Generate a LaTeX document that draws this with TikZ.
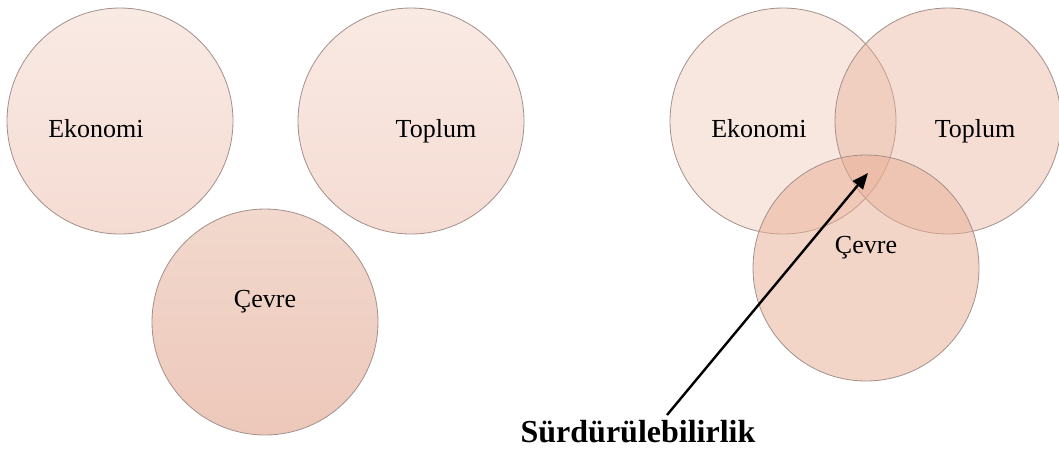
\documentclass[tikz,border=0pt]{standalone}
\usepackage{fontspec}
\setmainfont{Liberation Serif}
\usetikzlibrary{arrows.meta}
\definecolor{ringline}{HTML}{A3908B}
\definecolor{ringtop}{HTML}{F9EAE4}
\definecolor{ringbot}{HTML}{F5DCD3}
\definecolor{envtop}{HTML}{F2D8CD}
\definecolor{envbot}{HTML}{EDC8BA}
\definecolor{blendfill}{HTML}{E8AE96}
\newcommand{\lbl}{\fontsize{13pt}{15pt}\selectfont}
\newcommand{\keylbl}{\fontsize{16pt}{19pt}\selectfont\bfseries}

\tikzset{
  ring/.style={circle, draw=ringline, line width=0.4pt, minimum size=113pt, inner sep=0pt, outer sep=0pt},
  pale/.style={ring, top color=ringtop, bottom color=ringbot},
  deep/.style={ring, top color=envtop, bottom color=envbot},
  blend/.style={ring, fill=blendfill, fill opacity=#1},
  word/.style={anchor=base, inner sep=0pt, font=\lbl}
}

\begin{document}
\begin{tikzpicture}[x=0.5pt, y=-0.5pt]
  \useasboundingbox (0,0) rectangle (1059,452);

  % Separate circles
  \node[pale] (eko) at (120,121) {};
  \node[pale] (top) at (411,121) {};
  \node[deep] (cev) at (265,322) {};
  \node[word] (ekoL) at (96,137) {Ekonomi};
  \node[word] (topL) at (436,137) {Toplum};
  \node[word] (cevL) at (265,307) {Çevre};

  % Overlapping circles
  \node[blend=0.3] (eko2) at (783,121) {};
  \node[blend=0.42] (top2) at (948,121) {};
  \node[blend=0.52] (cev2) at (866,268) {};
  \node[word] (eko2L) at (759,137) {Ekonomi};
  \node[word] (top2L) at (975,137) {Toplum};
  \node[word] (cev2L) at (866,253) {Çevre};

  % Intersection label
  \node[anchor=base, inner sep=0pt, font=\keylbl] (surd) at (638,442) {Sürdürülebilirlik};
  \coordinate (start) at (667,415);
  \coordinate (core) at (868,173);
  \draw[line width=1.2pt, -{Triangle[length=8pt, width=6.5pt]}] (start) -- (core);
\end{tikzpicture}
\end{document}
